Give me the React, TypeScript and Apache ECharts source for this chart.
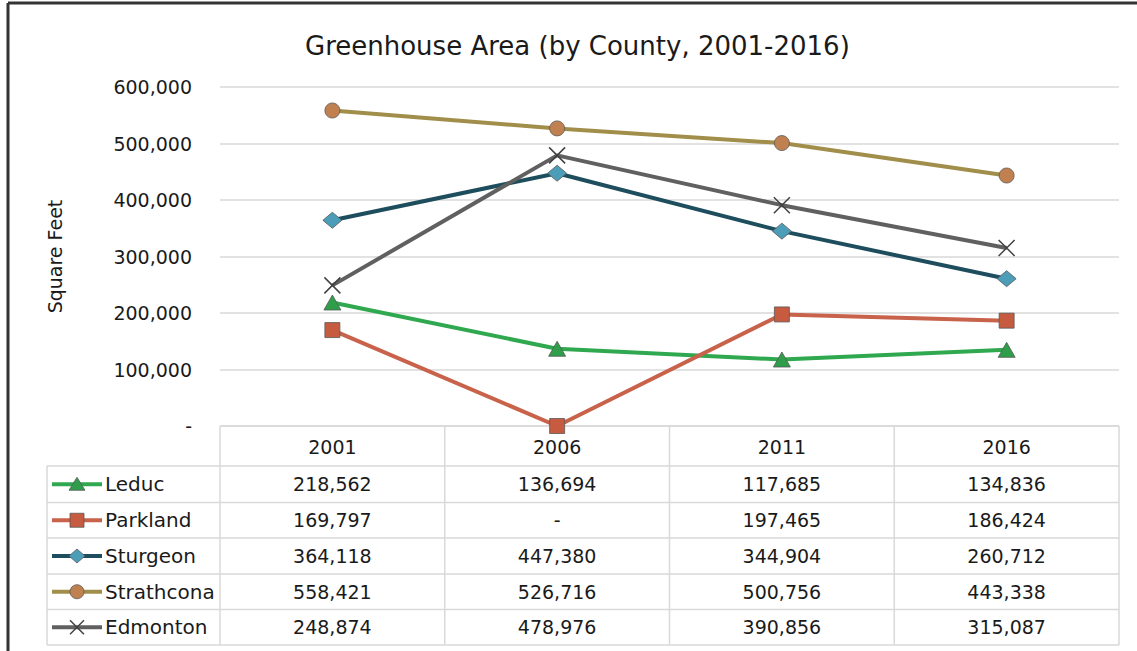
import React, { useEffect, useRef } from "react";
import * as echarts from "echarts";

const years = ["2001", "2006", "2011", "2016"];
const seriesNames = ["Leduc", "Parkland", "Sturgeon", "Strathcona", "Edmonton"];
const leduc = [218562, 136694, 117685, 134836];
const parkland = [169797, 0, 197465, 186424];
const sturgeon = [364118, 447380, 344904, 260712];
const strathcona = [558421, 526716, 500756, 443338];
const edmonton = [248874, 478976, 390856, 315087];
const yTicks = [0, 100000, 200000, 300000, 400000, 500000, 600000];

const seriesData = [leduc, parkland, sturgeon, strathcona, edmonton];
const lineColors = ["#2fa84f", "#c8624a", "#1e4d5e", "#a08e4a", "#606060"];
const markerFills = ["#2e9e4a", "#c65b3f", "#4c9db8", "#c1804f", "#505050"];
const markerKinds = ["triangle", "square", "diamond", "circle", "x"];

const FONT = "'DejaVu Sans', sans-serif";
const W = 1137;
const H = 651;
const GL = 220;
const GR = 1119;
const GT = 87;
const GB = 426;
const TL = 47;
const rowY = [426, 466, 502.5, 538, 574, 609.5, 645];
const lineGray = "#d9d9d9";

const fmt = (v: number) => (v === 0 ? "-" : v.toLocaleString("en-US"));

function symbolFor(kind: string) {
  if (kind === "triangle") return { symbol: "triangle", size: [17, 15] };
  if (kind === "square") return { symbol: "rect", size: [15, 15] };
  if (kind === "diamond") return { symbol: "diamond", size: [19, 16] };
  if (kind === "circle") return { symbol: "circle", size: 15 };
  return { symbol: "path://M0,0 L10,10 M10,0 L0,10", size: 16 };
}

function legendKey(i: number, cy: number): any[] {
  const x1 = 52;
  const x2 = 102;
  const cx = (x1 + x2) / 2;
  const out: any[] = [
    { type: "line", shape: { x1, y1: cy, x2, y2: cy }, style: { stroke: lineColors[i], lineWidth: 4 }, z: 10 },
  ];
  const st = { fill: markerFills[i], stroke: "#595959", lineWidth: 0.8 };
  const k = markerKinds[i];
  if (k === "triangle") out.push({ type: "polygon", shape: { points: [[cx, cy - 7], [cx + 8, cy + 6], [cx - 8, cy + 6]] }, style: st, z: 11 });
  else if (k === "square") out.push({ type: "rect", shape: { x: cx - 7, y: cy - 7, width: 14, height: 14 }, style: st, z: 11 });
  else if (k === "diamond") out.push({ type: "polygon", shape: { points: [[cx, cy - 7], [cx + 8, cy], [cx, cy + 7], [cx - 8, cy]] }, style: st, z: 11 });
  else if (k === "circle") out.push({ type: "circle", shape: { cx, cy, r: 7 }, style: st, z: 11 });
  else {
    out.push({ type: "line", shape: { x1: cx - 7, y1: cy - 7, x2: cx + 7, y2: cy + 7 }, style: { stroke: "#404040", lineWidth: 1.5 }, z: 11 });
    out.push({ type: "line", shape: { x1: cx + 7, y1: cy - 7, x2: cx - 7, y2: cy + 7 }, style: { stroke: "#404040", lineWidth: 1.5 }, z: 11 });
  }
  return out;
}

export default function App() {
  const ref = useRef<HTMLDivElement>(null);
  useEffect(() => {
    if (!ref.current) return;
    const chart = echarts.init(ref.current, undefined, { renderer: "svg" });
    const colW = (GR - GL) / years.length;
    const graphic: any[] = [];
    graphic.push({ type: "line", shape: { x1: 8, y1: 3, x2: W, y2: 3 }, style: { stroke: "#333", lineWidth: 3 } });
    graphic.push({ type: "line", shape: { x1: 8, y1: 3, x2: 8, y2: H }, style: { stroke: "#333", lineWidth: 3 } });
    rowY.forEach((y, r) => {
      graphic.push({ type: "line", shape: { x1: r === 0 ? GL : TL, y1: y, x2: GR, y2: y }, style: { stroke: lineGray, lineWidth: 1.5 } });
    });
    graphic.push({ type: "line", shape: { x1: TL, y1: rowY[1], x2: TL, y2: rowY[6] }, style: { stroke: lineGray, lineWidth: 1.5 } });
    for (let c = 0; c <= years.length; c++) {
      const x = GL + c * colW;
      graphic.push({ type: "line", shape: { x1: x, y1: rowY[0], x2: x, y2: rowY[6] }, style: { stroke: lineGray, lineWidth: 1.5 } });
    }
    seriesNames.forEach((name, i) => {
      const cy = (rowY[i + 1] + rowY[i + 2]) / 2;
      graphic.push(...legendKey(i, cy));
      graphic.push({
        type: "text", x: 105, y: cy, style: { text: name, fill: "#1a1a1a", font: `20px ${FONT}`, textVerticalAlign: "middle", textAlign: "left" },
      });
      seriesData[i].forEach((v, c) => {
        graphic.push({
          type: "text", x: GL + (c + 0.5) * colW, y: cy,
          style: { text: fmt(v), fill: "#1a1a1a", font: `19px ${FONT}`, textVerticalAlign: "middle", textAlign: "center" },
        });
      });
    });

    chart.setOption({
      animation: false,
      backgroundColor: "#ffffff",
      title: {
        text: "Greenhouse Area (by County, 2001-2016)",
        left: 300,
        top: 28,
        textStyle: { fontFamily: FONT, fontSize: 26, fontWeight: "normal", color: "#1a1a1a" },
      },
      grid: { left: GL, right: W - GR, top: GT, bottom: H - GB, containLabel: false },
      xAxis: {
        type: "category",
        data: years,
        boundaryGap: true,
        axisLine: { show: false },
        axisTick: { show: false },
        axisLabel: { show: true, margin: 11, fontFamily: FONT, fontSize: 19, color: "#1a1a1a" },
      },
      yAxis: {
        type: "value",
        min: yTicks[0],
        max: yTicks[yTicks.length - 1],
        interval: yTicks[1] - yTicks[0],
        name: "Square Feet",
        nameLocation: "middle",
        nameGap: 156,
        nameRotate: 90,
        nameTextStyle: { fontFamily: FONT, fontSize: 19, color: "#1a1a1a" },
        axisLine: { show: false },
        axisTick: { show: false },
        axisLabel: { margin: 28, fontFamily: FONT, fontSize: 19, color: "#1a1a1a", formatter: (v: number) => fmt(v) },
        splitLine: { lineStyle: { color: lineGray, width: 1.5 } },
      },
      series: seriesNames.map((name, i) => {
        const s = symbolFor(markerKinds[i]);
        const isX = markerKinds[i] === "x";
        return {
          name,
          type: "line",
          data: seriesData[i],
          symbol: s.symbol,
          symbolSize: s.size,
          showAllSymbol: true,
          lineStyle: { color: lineColors[i], width: 4 },
          itemStyle: isX
            ? { color: "#404040", borderColor: "#404040", borderWidth: 1.5 }
            : { color: markerFills[i], borderColor: "#595959", borderWidth: 0.8 },
          z: 5 + i,
        };
      }),
      graphic,
    });
    return () => chart.dispose();
  }, []);
  return <div ref={ref} style={{ position: "fixed", left: 0, top: 0, width: W, height: H }} />;
}
